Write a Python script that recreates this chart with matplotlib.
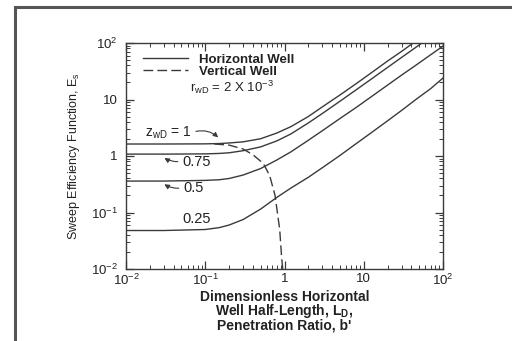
import numpy as np
import matplotlib.pyplot as plt
from matplotlib.lines import Line2D

# ------------------------------------------------------------------
# DATA
# ------------------------------------------------------------------
# horizontal well, z_wD = 1
ld_z100 = [0.01, 0.03, 0.1, 0.15, 0.2, 0.3, 0.5, 0.8, 1.2, 2, 3, 5, 8, 13, 20, 30, 45]
es_z100 = [1.63, 1.63, 1.64, 1.66, 1.70, 1.78, 2.02, 2.55, 3.3, 5.0, 7.4, 12, 19, 31, 48, 71, 107]
# horizontal well, z_wD = 0.75
ld_z075 = [0.01, 0.03, 0.1, 0.15, 0.2, 0.3, 0.5, 0.8, 1.2, 2, 3, 5, 8, 13, 20, 30, 45, 60]
es_z075 = [1.08, 1.08, 1.09, 1.11, 1.14, 1.24, 1.45, 1.85, 2.45, 3.85, 5.65, 9.3, 14.8, 24, 37, 55.5, 83, 111]
# horizontal well, z_wD = 0.5
ld_z050 = [0.01, 0.03, 0.1, 0.15, 0.2, 0.3, 0.5, 0.8, 1.2, 2, 3, 5, 8, 13, 20, 30, 45, 70, 100]
es_z050 = [0.36, 0.36, 0.37, 0.38, 0.40, 0.46, 0.60, 0.85, 1.18, 1.9, 2.8, 4.6, 7.2, 11.7, 18, 27, 40, 62, 88]
# horizontal well, z_wD = 0.25
ld_z025 = [0.01, 0.03, 0.1, 0.15, 0.2, 0.3, 0.5, 0.8, 1.2, 2, 3, 5, 8, 13, 20, 30, 45, 70, 100]
es_z025 = [0.048, 0.048, 0.05, 0.054, 0.06, 0.075, 0.115, 0.185, 0.27, 0.42, 0.62, 1.02, 1.65, 2.7, 4.2, 6.4, 9.9, 15.6, 24]
# vertical well (penetration ratio b')
b_vert = [0.13, 0.2, 0.3, 0.4, 0.54, 0.65, 0.76, 0.87, 0.92, 0.965]
es_vert = [1.63, 1.56, 1.33, 1.05, 0.74, 0.45, 0.20, 0.05, 0.016, 0.008]

xticks = [1e-2, 1e-1, 1, 10, 1e2]
xtick_labels = [r'$10^{-2}$', r'$10^{-1}$', '1', '10', r'$10^{2}$']
yticks = [1e-2, 1e-1, 1, 10, 1e2]
ytick_labels = [r'$10^{-2}$', r'$10^{-1}$', '1', '10', r'$10^{2}$']

line_col = '#3a3a3a'
text_col = '#222222'

def main():
    plt.rcParams['font.family'] = ['Liberation Sans', 'DejaVu Sans']
    plt.rcParams['mathtext.fontset'] = 'custom'
    plt.rcParams['mathtext.rm'] = 'Liberation Sans'
    plt.rcParams['mathtext.it'] = 'Liberation Sans'
    plt.rcParams['mathtext.bf'] = 'Liberation Sans:bold'

    fig = plt.figure(figsize=(5.12, 3.41), dpi=100)
    ax = fig.add_axes([126 / 512, 1 - 269 / 341, 317 / 512, 226 / 341])

    # outer frame of the page (left and top edges only)
    fig.add_artist(Line2D([15 / 512, 15 / 512], [0, 1 - 7 / 341], color='#555555', lw=2.2))
    fig.add_artist(Line2D([15 / 512, 1], [1 - 7 / 341, 1 - 7 / 341], color='#555555', lw=2.2))

    for xs, ys in [(ld_z100, es_z100), (ld_z075, es_z075), (ld_z050, es_z050), (ld_z025, es_z025)]:
        ax.plot(xs, ys, color=line_col, lw=1.0)
    ax.plot(b_vert, es_vert, color=line_col, lw=1.0, dashes=(7, 3))

    ax.set_xscale('log')
    ax.set_yscale('log')
    ax.set_xlim(1e-2, 1e2)
    ax.set_ylim(1e-2, 1e2)
    ax.set_xticks(xticks, xtick_labels)
    ax.set_yticks(yticks, ytick_labels)
    ax.tick_params(which='both', direction='in', top=True, right=True, colors=line_col,
                   labelcolor=text_col, labelsize=9.5)
    ax.tick_params(axis='y', which='major', length=6, width=0.9, pad=6)
    ax.tick_params(axis='x', which='major', length=6, width=0.9, pad=3)
    ax.tick_params(which='minor', length=3, width=0.7)
    for sp in ax.spines.values():
        sp.set_color(line_col)
        sp.set_linewidth(1.0)

    ax.set_xlabel("Dimensionless Horizontal\nWell Half-Length, $\\mathbf{L_D}$,\nPenetration Ratio, b'",
                  fontsize=10, fontweight='bold', color=text_col, linespacing=0.85, labelpad=1)
    ax.set_ylabel('Sweep Efficiency Function, $E_s$', fontsize=9, color=text_col)
    ax.yaxis.set_label_coords(-0.139, 0.5)

    # legend
    handles = [Line2D([], [], color=line_col, lw=1.0),
               Line2D([], [], color=line_col, lw=1.0, dashes=(7, 3))]
    leg = ax.legend(handles, ['Horizontal Well', 'Vertical Well'], loc='upper left',
                    bbox_to_anchor=(0.055, 0.952), frameon=False, handlelength=3.4,
                    handletextpad=0.8, labelspacing=-0.05, borderaxespad=0, borderpad=0,
                    prop={'size': 9.5, 'weight': 'bold'})
    for t in leg.get_texts():
        t.set_color(text_col)
    ax.text(0.202, 0.803, r'$\mathregular{r_{wD}}$ = 2 X $\mathregular{10^{-3}}$', transform=ax.transAxes,
            fontsize=9.5, color=text_col, va='center', ha='left')

    # curve labels
    ax.text(0.06, 0.603, r'$\mathregular{z_{wD}}$ = 1', transform=ax.transAxes, fontsize=10,
            color=text_col, va='center', ha='left')
    ax.annotate('', xy=(0.297, 0.574), xytext=(0.212, 0.606), xycoords='axes fraction',
                arrowprops=dict(arrowstyle='-|>', color=line_col, lw=0.8, mutation_scale=7,
                                connectionstyle='arc3,rad=-0.3'))
    ax.text(0.177, 0.475, '0.75', transform=ax.transAxes, fontsize=10.5, color=text_col,
            va='center', ha='left')
    ax.annotate('', xy=(0.114, 0.498), xytext=(0.172, 0.476), xycoords='axes fraction',
                arrowprops=dict(arrowstyle='-|>', color=line_col, lw=0.8, mutation_scale=7,
                                connectionstyle='arc3,rad=-0.2'))
    ax.text(0.18, 0.357, '0.5', transform=ax.transAxes, fontsize=10.5, color=text_col,
            va='center', ha='left')
    ax.annotate('', xy=(0.114, 0.382), xytext=(0.175, 0.358), xycoords='axes fraction',
                arrowprops=dict(arrowstyle='-|>', color=line_col, lw=0.8, mutation_scale=7,
                                connectionstyle='arc3,rad=-0.2'))
    ax.text(0.177, 0.22, '0.25', transform=ax.transAxes, fontsize=10.5, color=text_col,
            va='center', ha='left')

    fig.savefig('out.png', dpi=100)


if __name__ == "__main__":
    main()
